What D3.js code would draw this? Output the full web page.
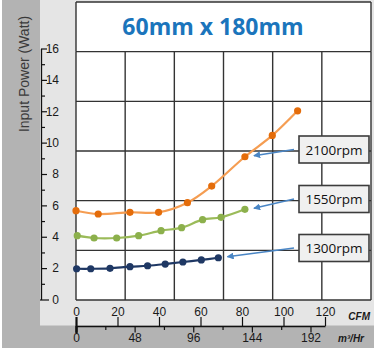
<!DOCTYPE html>
<html>
<head>
<meta charset="utf-8">
<script src="https://cdn.jsdelivr.net/npm/d3@7"></script>
<style>
  html, body { margin: 0; padding: 0; background: #fff; }
  svg { display: block; font-family: "Liberation Sans", Arial, sans-serif; }
</style>
</head>
<body>
<div id="chart"></div>
<script>
// input power vs airflow, 60mm x 180mm fan
const cfm2100 = [0, 10.7, 26, 39.8, 53.7, 65.4, 81.4, 94.6, 106.8];
const watt2100 = [5.66, 5.45, 5.56, 5.56, 6.17, 7.23, 9.1, 10.46, 12.03];

const cfm1550 = [0.6, 8.7, 19.6, 30.2, 41, 50.9, 61, 69.9, 81.4];
const watt1550 = [4.07, 3.92, 3.92, 4.07, 4.39, 4.58, 5.09, 5.24, 5.75];

const cfm1300 = [0.3, 7.1, 16.4, 26, 34.5, 43, 51.5, 60.4, 68.6];
const watt1300 = [1.96, 1.96, 1.99, 2.09, 2.15, 2.26, 2.39, 2.52, 2.66];

const rpmLabels = ["2100rpm", "1550rpm", "1300rpm"];
// which point of each curve the callout arrow points at
const calloutPoint = [6, 8, 8];
const cfmTicks = [0, 20, 40, 60, 80, 100, 120];
const m3Ticks = [0, 24, 48, 72, 96, 120, 144, 168, 192];
const wattTicks = d3.range(0, 17, 1);

const W = 374, H = 353;
const CFM_TO_M3 = 1.699;

const svg = d3.select("#chart").append("svg")
  .attr("width", W).attr("height", H);

// scales
const x = d3.scaleLinear([0, 120], [76, 325]);
const xm3 = d3.scaleLinear([0, 120 * CFM_TO_M3], [76, 325]);
const y = d3.scaleLinear([0, 16], [299.5, 48.5]);
// the background grid of the picture does not line up with the axes
const gx = d3.scaleLinear([0, 6], [76, 371]);
const gy = d3.scaleLinear([0, 6], [2, 300]);

// backgrounds
svg.append("rect").attr("x", 2).attr("y", 0).attr("width", W - 2).attr("height", 348)
  .attr("fill", "#b3b3b3");
svg.append("rect").attr("x", 40).attr("y", 0).attr("width", W - 40).attr("height", 325.5)
  .attr("fill", "#e5e5e5");
svg.append("rect").attr("x", gx(0)).attr("y", gy(0))
  .attr("width", gx(6) - gx(0)).attr("height", gy(6) - gy(0))
  .attr("fill", "#fff");

// grid
const grid = svg.append("g").attr("stroke", "#333").attr("stroke-width", 1.4);
grid.selectAll("line.h").data(d3.range(0, 7)).join("line")
  .attr("class", "h")
  .attr("x1", gx(0)).attr("x2", gx(6))
  .attr("y1", (d) => gy(d)).attr("y2", (d) => gy(d));
grid.selectAll("line.v").data(d3.range(0, 7)).join("line")
  .attr("class", "v")
  .attr("x1", (d) => gx(d)).attr("x2", (d) => gx(d))
  .attr("y1", gy(1)).attr("y2", gy(6));
grid.append("line")
  .attr("x1", gx(6)).attr("x2", gx(6)).attr("y1", gy(0)).attr("y2", gy(1));
grid.append("line")
  .attr("x1", gx(0)).attr("x2", gx(0)).attr("y1", gy(0)).attr("y2", gy(1));

// title
svg.append("text")
  .attr("x", 213).attr("y", 35)
  .attr("text-anchor", "middle")
  .attr("font-family", "'Open Sans', sans-serif")
  .attr("font-weight", "bold")
  .attr("font-size", 23)
  .attr("fill", "#1b75bc")
  .text("60mm x 180mm");

// y axis
const yAxis = svg.append("g")
  .attr("transform", "translate(41,0)")
  .call(d3.axisRight(y).tickValues(wattTicks).tickSizeOuter(0)
    .tickFormat((d) => (d % 2 ? "" : d)));
yAxis.select(".domain").attr("stroke", "#111").attr("stroke-width", 1.3);
yAxis.selectAll(".tick line")
  .attr("x2", (d) => (d % 2 ? 4 : 6))
  .attr("stroke", "#111").attr("stroke-width", 1.2);
yAxis.selectAll(".tick text")
  .attr("x", 18).attr("text-anchor", "end")
  .attr("font-size", 12).attr("fill", "#1a1a1a");
yAxis.selectAll(".tick").filter((d) => d === 0).select("line")
  .attr("x1", -1).attr("x2", 8);

svg.append("text")
  .attr("transform", "translate(29,74) rotate(-90)")
  .attr("text-anchor", "middle")
  .attr("font-size", 14)
  .attr("fill", "#3a3a3a")
  .text("Input Power (Watt)");

// CFM axis
const cfmAxis = svg.append("g")
  .attr("transform", "translate(0,326)")
  .call(d3.axisTop(x).tickValues(cfmTicks).tickSize(9).tickSizeOuter(0).tickPadding(1.5));
cfmAxis.select(".domain").attr("stroke", "#111").attr("stroke-width", 1.3);
cfmAxis.selectAll(".tick line").attr("stroke", "#111").attr("stroke-width", 1.2);
cfmAxis.selectAll(".tick text").attr("font-size", 12).attr("fill", "#1a1a1a");
cfmAxis.selectAll(".tick").filter((d) => d === 0).select("line")
  .attr("stroke-width", 2.2).attr("y1", 7);

// m3/h axis
const m3Axis = svg.append("g")
  .attr("transform", "translate(0,326)")
  .call(d3.axisBottom(xm3).tickValues(m3Ticks).tickSizeOuter(0)
    .tickFormat((d) => (d % 48 ? "" : d)));
m3Axis.select(".domain").remove();
m3Axis.selectAll(".tick line")
  .attr("y2", (d) => (d % 48 ? 4 : 6.5))
  .attr("stroke", "#111").attr("stroke-width", 1.2);
m3Axis.selectAll(".tick text")
  .attr("y", 15.5).attr("dy", 0)
  .attr("font-size", 12).attr("fill", "#1a1a1a");
m3Axis.selectAll(".tick").filter((d) => d === 0).select("line")
  .attr("stroke-width", 2.2);

svg.append("text")
  .attr("x", 370).attr("y", 319.5).attr("text-anchor", "end")
  .attr("font-size", 10).attr("font-weight", "bold").attr("font-style", "italic")
  .attr("fill", "#1a1a1a")
  .text("CFM");
svg.append("text")
  .attr("x", 364).attr("y", 341.5).attr("text-anchor", "end")
  .attr("font-size", 10).attr("font-weight", "bold").attr("font-style", "italic")
  .attr("fill", "#1a1a1a")
  .text("m³/Hr");

// series
const series = [
  { name: rpmLabels[0], cfm: cfm2100, watt: watt2100, line: "#f59d52", dot: "#e46c0a" },
  { name: rpmLabels[1], cfm: cfm1550, watt: watt1550, line: "#9bbb59", dot: "#8cb04c" },
  { name: rpmLabels[2], cfm: cfm1300, watt: watt1300, line: "#1f3864", dot: "#1f3864" },
];

const line = d3.line()
  .x((d) => x(d[0]))
  .y((d) => y(d[1]))
  .curve(d3.curveCatmullRom.alpha(0.5));

const plot = svg.append("g");
series.forEach((s) => {
  let pts = s.cfm.map((c, i) => [c, s.watt[i]]);
  plot.append("path")
    .attr("d", line(pts))
    .attr("fill", "none")
    .attr("stroke", s.line)
    .attr("stroke-width", 2.2);
  plot.selectAll(null).data(pts).join("circle")
    .attr("cx", (d) => x(d[0]))
    .attr("cy", (d) => y(d[1]))
    .attr("r", 3.6)
    .attr("fill", s.dot);
});

// callouts
svg.append("defs").append("marker")
  .attr("id", "arrow")
  .attr("viewBox", "0 0 10 10")
  .attr("refX", 9).attr("refY", 5)
  .attr("markerWidth", 7).attr("markerHeight", 7)
  .attr("markerUnits", "userSpaceOnUse")
  .attr("orient", "auto")
  .append("path")
  .attr("d", "M0,0 L10,5 L0,10 Z")
  .attr("fill", "#4a86c5");

const boxY = [149.5, 199, 248];
const boxX = 299, boxW = 70, boxH = 27;

series.forEach((s, i) => {
  let n = calloutPoint[i];
  let tipX = x(s.cfm[n]) + 9;
  let tipY = y(s.watt[n]) - 1;
  svg.append("line")
    .attr("x1", boxX - 5).attr("y1", boxY[i])
    .attr("x2", tipX).attr("y2", tipY)
    .attr("stroke", "#4a86c5")
    .attr("stroke-width", 1.6)
    .attr("marker-end", "url(#arrow)");

  svg.append("rect")
    .attr("x", boxX).attr("y", boxY[i] - boxH / 2)
    .attr("width", boxW).attr("height", boxH)
    .attr("fill", "#f0f0f0")
    .attr("stroke", "#3c3c3c")
    .attr("stroke-width", 1.6);
  svg.append("text")
    .attr("x", boxX + boxW / 2).attr("y", boxY[i] + 5)
    .attr("text-anchor", "middle")
    .attr("font-family", "'Open Sans', sans-serif")
    .attr("font-size", 13.5)
    .attr("fill", "#111")
    .text(s.name);
});
</script>
</body>
</html>
